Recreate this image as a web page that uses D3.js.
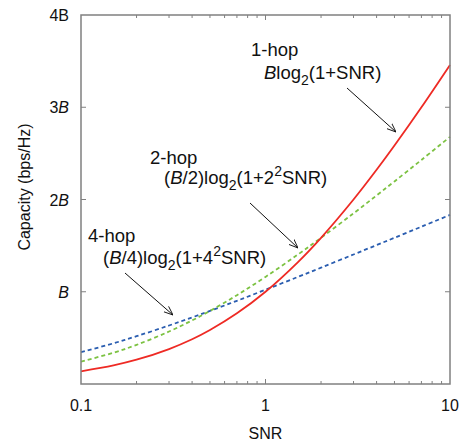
<!DOCTYPE html>
<html>
<head>
<meta charset="utf-8">
<script src="https://cdn.jsdelivr.net/npm/d3@7"></script>
<style>
  body { margin: 0; background: #fff; }
  text { font-family: "Liberation Sans", Arial, sans-serif; fill: #111; }
</style>
</head>
<body>
<svg class="chart"></svg>
<script>
// values (capacity in units of B)
var snr = [0.1, 0.15, 0.2, 0.3, 0.4, 0.5, 0.7, 1, 1.5, 2, 3, 4, 5, 7, 10]
var hop1 = [0.138, 0.202, 0.263, 0.379, 0.485, 0.585, 0.766, 1.0, 1.322, 1.585, 2.0, 2.322, 2.585, 3.0, 3.459]
var hop2 = [0.243, 0.339, 0.424, 0.569, 0.689, 0.792, 0.963, 1.161, 1.404, 1.585, 1.850, 2.044, 2.196, 2.429, 2.679]
var hop4 = [0.345, 0.441, 0.518, 0.634, 0.722, 0.792, 0.902, 1.022, 1.161, 1.261, 1.404, 1.506, 1.585, 1.705, 1.833]
var xTicks = [0.1, 1, 10]
var yTicks = [1, 2, 3, 4]
var yTickLabels = ["B", "2B", "3B", "4B"]

var width = 474, height = 444
var margin = {top: 15, right: 24, bottom: 60, left: 81}
var w = width - margin.left - margin.right
var h = height - margin.top - margin.bottom

var x = d3.scaleLog().domain([0.1, 10]).range([0, w])
var y = d3.scaleLinear().domain([0, 4]).range([h, 0])

var svg = d3.select(".chart")
    .attr("width", width)
    .attr("height", height)
  .append("g")
    .attr("transform", `translate(${margin.left},${margin.top})`)

// curves
var series = [
  {vals: hop1, color: "#ee2a24", dash: null},
  {vals: hop2, color: "#7cc242", dash: "4,3"},
  {vals: hop4, color: "#2a5db0", dash: "4,3"}
]

var line = d3.line()
    .x(function(d) { return x(d[0]) })
    .y(function(d) { return y(d[1]) })
    .curve(d3.curveCatmullRom.alpha(0.5))

series.slice().reverse().forEach(function(s) {
  svg.append("path")
    .datum(snr.map(function(v, i) { return [v, s.vals[i]] }))
    .attr("fill", "none")
    .attr("stroke", s.color)
    .attr("stroke-width", 1.8)
    .attr("stroke-dasharray", s.dash)
    .attr("d", line)
})

// frame + ticks
var frameColor = "#808080"
svg.append("rect")
    .attr("width", w)
    .attr("height", h)
    .attr("fill", "none")
    .attr("stroke", frameColor)
    .attr("stroke-width", 1.5)

var minor = []
;[0.1, 1].forEach(function(dec) {
  for (var k = 2; k <= 9; k++) minor.push(dec * k)
})

function xTickMarks(yPos, dir) {
  svg.selectAll(null).data(minor).enter().append("line")
    .attr("x1", function(d) { return x(d) }).attr("x2", function(d) { return x(d) })
    .attr("y1", yPos).attr("y2", yPos + dir * 3)
    .attr("stroke", frameColor).attr("stroke-width", 1)
  svg.selectAll(null).data(xTicks.slice(1, -1)).enter().append("line")
    .attr("x1", function(d) { return x(d) }).attr("x2", function(d) { return x(d) })
    .attr("y1", yPos).attr("y2", yPos + dir * 5)
    .attr("stroke", frameColor).attr("stroke-width", 1)
}
xTickMarks(h, -1)
xTickMarks(0, 1)

function yTickMarks(xPos, dir) {
  svg.selectAll(null).data(yTicks.slice(0, -1)).enter().append("line")
    .attr("y1", function(d) { return y(d) }).attr("y2", function(d) { return y(d) })
    .attr("x1", xPos).attr("x2", xPos + dir * 5)
    .attr("stroke", frameColor).attr("stroke-width", 1)
}
yTickMarks(0, 1)
yTickMarks(w, -1)

// tick labels
svg.selectAll(null).data(xTicks).enter().append("text")
    .attr("x", function(d) { return x(d) })
    .attr("y", h + 27)
    .attr("text-anchor", "middle")
    .attr("font-size", 16)
    .text(function(d) { return d })

var yl = svg.selectAll(null).data(yTicks).enter().append("text")
    .attr("x", -12)
    .attr("y", function(d) { return y(d) + 6 })
    .attr("text-anchor", "end")
    .attr("font-size", 16)
yl.each(function(d, i) {
  var lab = yTickLabels[i]
  var t = d3.select(this)
  if (lab.length > 1) t.append("tspan").text(lab.slice(0, -1))
  t.append("tspan").attr("font-style", d === 4 ? null : "italic").text("B")
})

svg.append("text")
    .attr("x", w / 2)
    .attr("y", h + 55)
    .attr("text-anchor", "middle")
    .attr("font-size", 16)
    .text("SNR")

svg.append("text")
    .attr("transform", `translate(${30 - margin.left},${187 - margin.top}) rotate(-90)`)
    .attr("text-anchor", "middle")
    .attr("font-size", 16)
    .text("Capacity (bps/Hz)")

// annotations (page coordinates)
var ann = svg.append("g").attr("transform", `translate(${-margin.left},${-margin.top})`)

ann.append("defs").append("marker")
    .attr("id", "arr")
    .attr("viewBox", "0 0 10 10")
    .attr("refX", 10).attr("refY", 5)
    .attr("markerWidth", 9).attr("markerHeight", 9)
    .attr("orient", "auto")
  .append("path")
    .attr("d", "M0,1 L10,5 L0,9")
    .attr("fill", "none")
    .attr("stroke", "#111")
    .attr("stroke-width", 1)

function label(x0, y0, title, x1, y1, parts) {
  ann.append("text").attr("x", x0).attr("y", y0).attr("font-size", 18.5).text(title)
  var t = ann.append("text").attr("x", x1).attr("y", y1).attr("font-size", 18.5)
  parts.forEach(function(p) {
    var s = t.append("tspan").text(p.t)
    if (p.i) s.attr("font-style", "italic")
    if (p.sub) s.attr("font-size", 14).attr("dy", 6)
    if (p.sup) s.attr("font-size", 14).attr("dy", -8)
    if (p.back) s.attr("dy", p.back)
  })
}

label(251, 56, "1-hop", 264, 79, [
  {t: "B", i: true}, {t: "log"}, {t: "2", sub: true}, {t: "(1+SNR)", back: -6}
])
label(150, 164, "2-hop", 164, 184, [
  {t: "("}, {t: "B", i: true}, {t: "/2)log"}, {t: "2", sub: true}, {t: "(1+2", back: -6},
  {t: "2", sup: true}, {t: "SNR)", back: 8}
])
label(88, 242, "4-hop", 103, 264, [
  {t: "("}, {t: "B", i: true}, {t: "/4)log"}, {t: "2", sub: true}, {t: "(1+4", back: -6},
  {t: "2", sup: true}, {t: "SNR)", back: 8}
])

var arrows = [
  [347, 88, 396, 132],
  [250, 203, 298, 248],
  [125, 273, 173, 315]
]
ann.selectAll(null).data(arrows).enter().append("line")
    .attr("x1", function(d) { return d[0] }).attr("y1", function(d) { return d[1] })
    .attr("x2", function(d) { return d[2] }).attr("y2", function(d) { return d[3] })
    .attr("stroke", "#111")
    .attr("stroke-width", 1)
    .attr("marker-end", "url(#arr)")
</script>
</body>
</html>
